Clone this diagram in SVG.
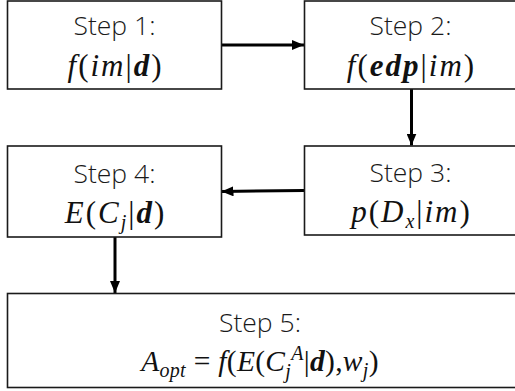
<svg xmlns="http://www.w3.org/2000/svg" width="515" height="391" viewBox="0 0 515 391">
<defs>
<marker id="ah" viewBox="0 0 12 10" refX="12" refY="5" markerWidth="12" markerHeight="10" markerUnits="userSpaceOnUse" orient="auto">
<path d="M0,0 L12,5 L0,10 Z" fill="#000"/>
</marker>
<style>
.box{fill:#fff;stroke:#1a1a1a;stroke-width:1.6}
.lbl{font-family:"Open Sans","Liberation Sans",sans-serif;font-weight:300;font-size:26.5px;fill:#1a1a1a;text-anchor:middle}
.m{font-family:"Liberation Serif","DejaVu Serif",serif;font-style:italic;font-size:31px;fill:#111;text-anchor:middle;letter-spacing:2px}
.m5{letter-spacing:0.3px;font-size:29.5px}
.u{font-style:normal}
.b{font-weight:bold}
.s{font-size:20px}
.conn{stroke:#000;stroke-width:3;fill:none}
</style>
</defs>
<g id="connectors">
<line class="conn" x1="221" y1="45" x2="304" y2="45" marker-end="url(#ah)"/>
<line class="conn" x1="411.5" y1="89" x2="411.5" y2="145.5" marker-end="url(#ah)"/>
<line class="conn" x1="304" y1="190.5" x2="221.5" y2="191.5" marker-end="url(#ah)"/>
<line class="conn" x1="115" y1="237" x2="115" y2="293" marker-end="url(#ah)"/>
</g>
<g id="step1">
<rect class="box" x="7.5" y="1" width="214" height="88"/>
<text class="lbl" x="114.5" y="35">Step 1:</text>
<text class="m" x="115.5" y="76">f<tspan class="u">(</tspan>im<tspan class="u">|</tspan><tspan class="b">d</tspan><tspan class="u">)</tspan></text>
</g>
<g id="step2">
<rect class="box" x="304.5" y="1" width="215" height="88"/>
<text class="lbl" x="410.5" y="35">Step 2:</text>
<text class="m" x="411.5" y="76">f<tspan class="u">(</tspan><tspan class="b">edp</tspan><tspan class="u">|</tspan>im<tspan class="u">)</tspan></text>
</g>
<g id="step3">
<rect class="box" x="304.5" y="146" width="215" height="89"/>
<text class="lbl" x="410.5" y="182">Step 3:</text>
<text class="m" x="411.5" y="222">p<tspan class="u">(</tspan>D<tspan class="s" dy="6">x</tspan><tspan class="u" dy="-6">|</tspan>im<tspan class="u">)</tspan></text>
</g>
<g id="step4">
<rect class="box" x="7.5" y="146" width="214" height="91"/>
<text class="lbl" x="114.5" y="183">Step 4:</text>
<text class="m" x="115.5" y="223">E<tspan class="u">(</tspan>C<tspan class="s" dy="6">j</tspan><tspan class="u" dy="-6">|</tspan><tspan class="b">d</tspan><tspan class="u">)</tspan></text>
</g>
<g id="step5">
<rect class="box" x="7.5" y="293.5" width="512" height="94"/>
<text class="lbl" x="260" y="332">Step 5:</text>
<text class="m m5" x="260" y="371">A<tspan class="s" dy="6">opt</tspan><tspan class="u" dy="-6"> = </tspan>f<tspan class="u">(</tspan>E<tspan class="u">(</tspan>C<tspan class="s" dy="7">j</tspan><tspan class="s" dy="-18">A</tspan><tspan class="u" dy="11">|</tspan><tspan class="b">d</tspan><tspan class="u">),</tspan>w<tspan class="s" dy="6">j</tspan><tspan class="u" dy="-6">)</tspan></text>
</g>
</svg>
